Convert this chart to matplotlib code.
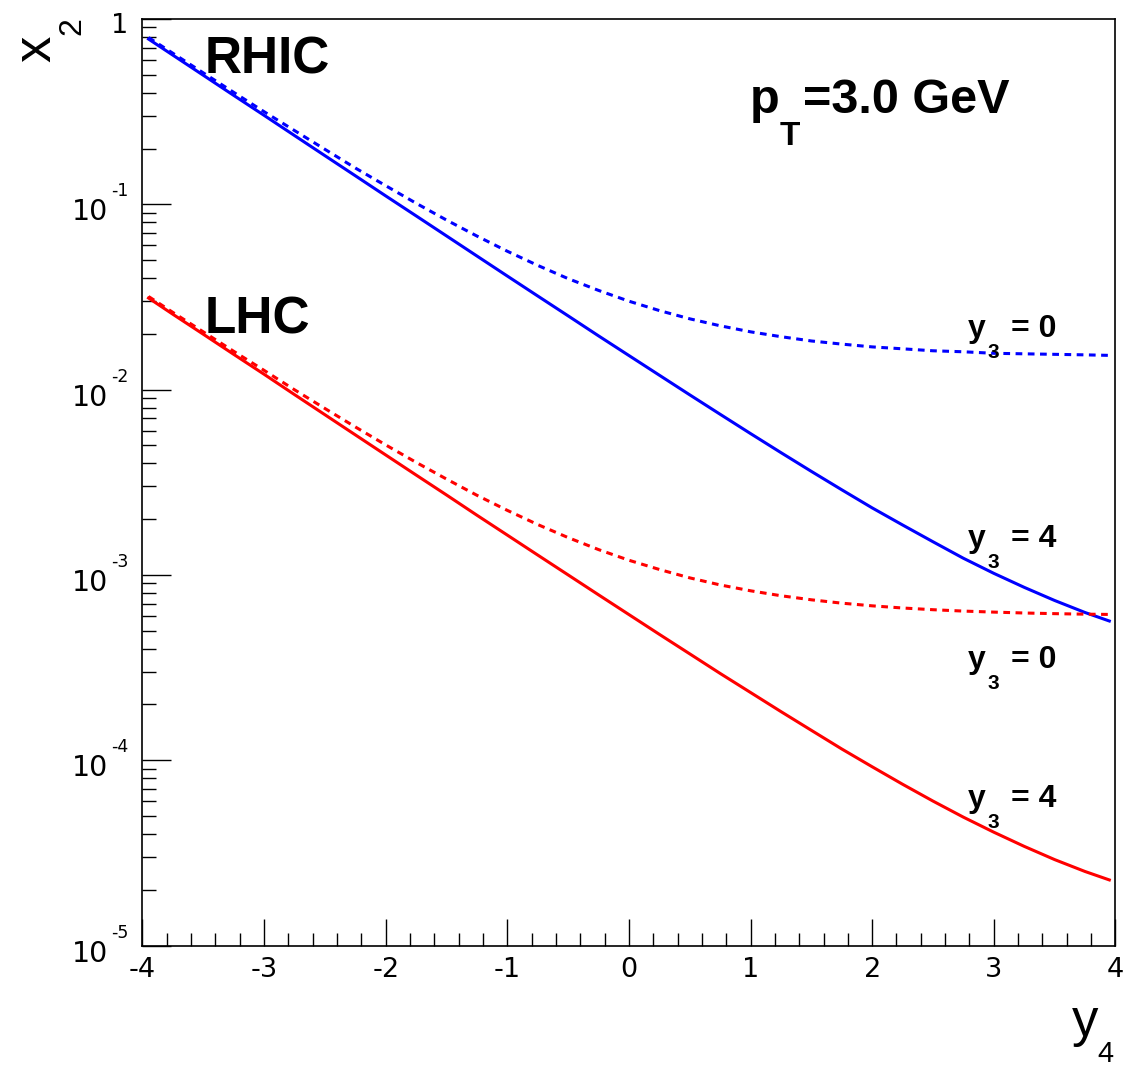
import numpy as np
import matplotlib
matplotlib.use('Agg')
import matplotlib.pyplot as plt
from matplotlib.ticker import MultipleLocator, LogLocator, NullFormatter
from matplotlib.transforms import offset_copy, blended_transform_factory

plt.rcParams['font.family'] = ['Liberation Sans', 'DejaVu Sans']
plt.rcParams['axes.unicode_minus'] = False

# rapidity of the second hadron
y4 = [-3.95, -3.75, -3.5, -3.25, -3.0, -2.75, -2.5, -2.25, -2.0, -1.75, -1.5,
      -1.25, -1.0, -0.75, -0.5, -0.25, 0.0, 0.25, 0.5, 0.75, 1.0, 1.25, 1.5,
      1.75, 2.0, 2.25, 2.5, 2.75, 3.0, 3.25, 3.5, 3.75, 3.95]

# x2 at RHIC
rhic_y3_0 = [0.794, 0.653, 0.512, 0.402, 0.316, 0.250, 0.198, 0.157, 0.126, 0.1013, 0.0822,
             0.0674, 0.0558, 0.0468, 0.0397, 0.0343, 0.0300, 0.0267, 0.0241, 0.0221, 0.0205,
             0.0193, 0.0183, 0.0176, 0.0170, 0.0166, 0.0162, 0.0160, 0.0157, 0.0156, 0.0155,
             0.0154, 0.0153]
rhic_y3_4 = [0.779, 0.638, 0.497, 0.387, 0.302, 0.235, 0.183, 0.1426, 0.111, 0.0866, 0.0675,
             0.0526, 0.0410, 0.0320, 0.0250, 0.0195, 0.01527, 0.01196, 0.00937, 0.00736,
             0.00579, 0.00457, 0.00362, 0.00288, 0.00230, 0.00186, 0.00151, 0.00123,
             0.00102, 0.000857, 0.000728, 0.000627, 0.000564]

# x2 at LHC
lhc_y3_0 = [0.0318, 0.0261, 0.0205, 0.0161, 0.0127, 0.00998, 0.00791, 0.00629, 0.00503,
            0.00405, 0.00329, 0.00269, 0.00223, 0.00187, 0.00159, 0.00137, 0.00120,
            0.00107, 0.000964, 0.000883, 0.000821, 0.000772, 0.000734, 0.000704, 0.000681,
            0.000663, 0.000649, 0.000638, 0.000630, 0.000623, 0.000618, 0.000614, 0.000612]
lhc_y3_4 = [0.0312, 0.0255, 0.0199, 0.0155, 0.0121, 0.00940, 0.00732, 0.00570, 0.00444,
            0.00346, 0.00270, 0.00210, 0.00164, 0.00128, 0.00100, 0.000781, 0.000611,
            0.000478, 0.000375, 0.000294, 0.000232, 0.000183, 0.000145, 0.000115, 9.22e-5,
            7.42e-5, 6.02e-5, 4.93e-5, 4.09e-5, 3.43e-5, 2.91e-5, 2.51e-5, 2.26e-5]

decades = [-5, -4, -3, -2, -1, 0]

W, H = 1137, 1066
fig = plt.figure(figsize=(W / 100, H / 100), dpi=100)
ax = fig.add_axes([0.1253, 0.1130, 0.8557, 0.8692])


def px(x, y):
    return x / W, 1 - y / H


dash = (0, (2.2, 1.8))
ax.plot(y4, rhic_y3_4, color='#0000ff', lw=2.2)
ax.plot(y4, rhic_y3_0, color='#0000ff', lw=2.2, ls=dash)
ax.plot(y4, lhc_y3_4, color='#ff0000', lw=2.2)
ax.plot(y4, lhc_y3_0, color='#ff0000', lw=2.2, ls=dash)

ax.set_yscale('log')
ax.set_xlim(-4, 4)
ax.set_ylim(1e-5, 1)

ax.xaxis.set_major_locator(MultipleLocator(1))
ax.xaxis.set_minor_locator(MultipleLocator(0.2))
ax.yaxis.set_major_locator(LogLocator(base=10, numticks=20))
ax.yaxis.set_minor_locator(LogLocator(base=10, subs=np.arange(2, 10), numticks=100))
ax.yaxis.set_major_formatter(NullFormatter())
ax.yaxis.set_minor_formatter(NullFormatter())

ax.tick_params(which='both', direction='in', top=False, right=False, width=1.0, color='black')
ax.tick_params(axis='x', which='major', length=19.5, labelsize=19.5, pad=8)
ax.tick_params(axis='x', which='minor', length=9.5)
ax.tick_params(axis='y', which='major', length=21)
ax.tick_params(axis='y', which='minor', length=10)
for lab in ax.get_xticklabels():
    lab.set_family('DejaVu Sans')
for s in ax.spines.values():
    s.set_linewidth(1.2)

# log axis labels drawn as 10 with raised exponent
trans = blended_transform_factory(ax.transAxes, ax.transData)
for d in decades:
    if d == 0:
        ax.text(0, 1.0, '1', fontsize=19.5, family='DejaVu Sans', ha='right', va='baseline',
                transform=offset_copy(trans, fig=fig, x=-14, y=-14, units='dots'))
    else:
        ax.text(0, 10.0 ** d, '10', fontsize=20.5, family='DejaVu Sans', ha='right',
                va='baseline',
                transform=offset_copy(trans, fig=fig, x=-34, y=-16, units='dots'))
        ax.text(0, 10.0 ** d, str(d), fontsize=12.5, family='DejaVu Sans', ha='left',
                va='baseline',
                transform=offset_copy(trans, fig=fig, x=-31, y=8, units='dots'))

# axis titles
fig.text(*px(50, 62), 'x', fontsize=38, rotation=90, rotation_mode='anchor',
         ha='left', va='baseline')
fig.text(*px(80, 35), '2', fontsize=23, rotation=90, rotation_mode='anchor',
         ha='left', va='baseline')
fig.text(*px(1072, 1036), 'y', fontsize=38, ha='left', va='baseline')
fig.text(*px(1097, 1062), '4', fontsize=21, ha='left', va='baseline')

# collider and kinematics labels
fig.text(*px(205, 74), 'RHIC', fontsize=37, fontweight='bold', ha='left', va='baseline')
fig.text(*px(205, 333), 'LHC', fontsize=37, fontweight='bold', ha='left', va='baseline')
fig.text(*px(750, 113), 'p', fontsize=35, fontweight='bold', ha='left', va='baseline')
fig.text(*px(780, 145), 'T', fontsize=24, fontweight='bold', ha='left', va='baseline')
fig.text(*px(803, 113), '=3.0 GeV', fontsize=35, fontweight='bold', ha='left', va='baseline')

for base, val in [(337, '0'), (547, '4'), (668, '0'), (807, '4')]:
    fig.text(*px(968, base), 'y', fontsize=23, fontweight='bold', ha='left', va='baseline')
    fig.text(*px(988, base + 21), '3', fontsize=15, fontweight='bold', ha='left', va='baseline')
    fig.text(*px(1011, base), '= ' + val, fontsize=23, fontweight='bold', ha='left',
             va='baseline')

fig.savefig('out.png', dpi=100)
